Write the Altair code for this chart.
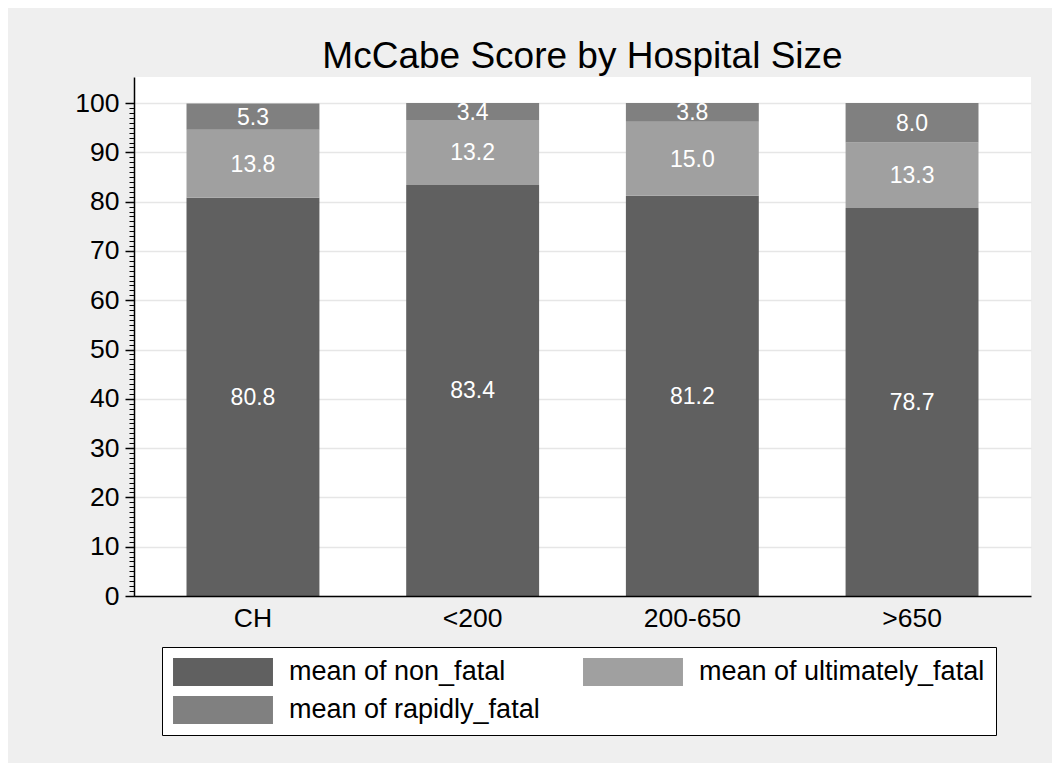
import altair as alt
import pandas as pd

FONT = "Liberation Sans"

categories = ["CH", "<200", "200-650", ">650"]
non_fatal = [80.8, 83.4, 81.2, 78.7]
ultimately_fatal = [13.8, 13.2, 15.0, 13.3]
rapidly_fatal = [5.3, 3.4, 3.8, 8.0]
series_names = ["mean of non_fatal", "mean of ultimately_fatal", "mean of rapidly_fatal"]
series_colors = ["#606060", "#a0a0a0", "#808080"]
major_ticks = list(range(0, 101, 10))
minor_ticks = list(range(0, 101))

rows = []
for i, cat in enumerate(categories):
    base = 0.0
    for k, vals in enumerate([non_fatal, ultimately_fatal, rapidly_fatal]):
        v = vals[i]
        rows.append({
            "size": cat, "series": series_names[k], "order": k, "value": v,
            "y0": base, "y1": base + v, "mid": base + v / 2, "label": f"{v:.1f}",
        })
        base += v
df = pd.DataFrame(rows)

yscale = alt.Scale(domain=[0, 105.3], nice=False, zero=True)
xscale = alt.Scale(paddingInner=0.395, paddingOuter=0.239)

x_axis = alt.Axis(title=None, labelAngle=0, ticks=False, labelFontSize=26.5, labelFont=FONT,
                  labelPadding=9, labelColor="black", domainColor="black", domainWidth=1.5,
                  grid=False, zindex=1)

bars = alt.Chart(df).mark_bar(strokeWidth=0).encode(
    x=alt.X("size:N", sort=categories, scale=xscale, axis=x_axis),
    y=alt.Y("y1:Q", scale=yscale,
            axis=alt.Axis(values=major_ticks, title=None, tickSize=9, tickColor="black",
                          tickWidth=1.5, domainColor="black", domainWidth=1.5,
                          labelFontSize=26.5, labelFont=FONT, labelPadding=6, labelColor="black",
                          grid=True, gridColor="#e6e6e6", gridWidth=1.5)),
    y2="y0:Q",
    color=alt.Color("series:N", scale=alt.Scale(domain=series_names, range=series_colors),
                    legend=alt.Legend(
                        title=None, orient="none", legendX=28, legendY=570, columns=2,
                        direction="horizontal",
                        symbolType="M-3.57,-1L3.57,-1L3.57,1L-3.57,1Z", symbolSize=784,
                        symbolOffset=36,
                        symbolStrokeWidth=0, symbolOpacity=1,
                        labelFontSize=27, labelFont=FONT, labelColor="black", labelOffset=52,
                        labelLimit=1000, rowPadding=10, columnPadding=43, padding=11,
                        fillColor="white", strokeColor="black")),
)

labels = alt.Chart(df).mark_text(color="white", fontSize=23, font=FONT, dy=1).encode(
    x=alt.X("size:N", sort=categories, scale=xscale, axis=x_axis),
    y=alt.Y("mid:Q", scale=yscale,
            axis=alt.Axis(orient="left", values=minor_ticks, labels=False, tickSize=5,
                          tickColor="black", tickWidth=1, domain=False, grid=False, title=None)),
    text="label:N",
)

chart = alt.layer(bars, labels).resolve_axis(y="independent").properties(
    width=897, height=519,
    title=alt.Title("McCabe Score by Hospital Size", fontSize=37, font=FONT,
                    fontWeight="normal", color="black", offset=1, anchor="middle"),
    background="#efefef",
    padding={"left": 126, "top": 69, "right": 21, "bottom": 167},
    autosize=alt.AutoSizeParams(type="none"),
).configure_view(fill="white", strokeWidth=0)

chart.save("out.html", embed_options={"renderer": "svg", "actions": False})
